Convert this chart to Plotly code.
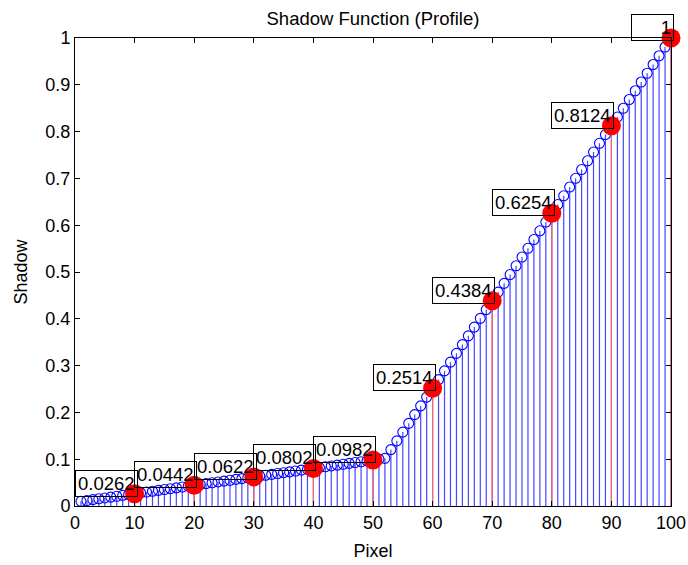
import plotly.graph_objects as go

# Pixel positions and shadow profile values
pixel = list(range(1, 101))
shadow = [
    0.0100, 0.0118, 0.0136, 0.0154, 0.0172, 0.0190, 0.0208, 0.0226, 0.0244, 0.0262,
    0.0280, 0.0298, 0.0316, 0.0334, 0.0352, 0.0370, 0.0388, 0.0406, 0.0424, 0.0442,
    0.0460, 0.0478, 0.0496, 0.0514, 0.0532, 0.0550, 0.0568, 0.0586, 0.0604, 0.0622,
    0.0640, 0.0658, 0.0676, 0.0694, 0.0712, 0.0730, 0.0748, 0.0766, 0.0784, 0.0802,
    0.0820, 0.0838, 0.0856, 0.0874, 0.0892, 0.0910, 0.0928, 0.0946, 0.0964, 0.0982,
    0.1000, 0.1018, 0.1205, 0.1392, 0.1579, 0.1766, 0.1953, 0.2140, 0.2327, 0.2514,
    0.2701, 0.2888, 0.3075, 0.3262, 0.3449, 0.3636, 0.3823, 0.4010, 0.4197, 0.4384,
    0.4571, 0.4758, 0.4945, 0.5132, 0.5319, 0.5506, 0.5693, 0.5880, 0.6067, 0.6254,
    0.6441, 0.6628, 0.6815, 0.7002, 0.7189, 0.7376, 0.7563, 0.7750, 0.7937, 0.8124,
    0.8311, 0.8498, 0.8685, 0.8872, 0.9059, 0.9246, 0.9433, 0.9620, 0.9807, 1.0000,
]

# Sampled pixels that get a marker and a value label
marked_pixel = [10, 20, 30, 40, 50, 60, 70, 80, 90, 100]
marked_shadow = [shadow[p - 1] for p in marked_pixel]

x_ticks = list(range(0, 101, 10))
y_ticks = [round(0.1 * i, 1) for i in range(11)]
y_ticklabels = ["0", "0.1", "0.2", "0.3", "0.4", "0.5", "0.6", "0.7", "0.8", "0.9", "1"]

FONT = "Liberation Sans, Arial, Helvetica, sans-serif"

fig = go.Figure()

# Blue stems with open circles
fig.add_trace(go.Scatter(
    x=pixel, y=shadow, mode="markers",
    marker=dict(symbol="circle-open", size=10, color="blue", line=dict(width=1.1, color="blue")),
    error_y=dict(type="data", symmetric=False, array=[0] * len(shadow),
                 arrayminus=shadow, width=0, thickness=1.2, color="rgb(70,70,255)"),
    cliponaxis=False, showlegend=False, hoverinfo="x+y",
))

# Red highlighted stems with filled markers
fig.add_trace(go.Scatter(
    x=marked_pixel, y=marked_shadow, mode="markers",
    marker=dict(symbol="circle", size=19, color="red"),
    error_y=dict(type="data", symmetric=False, array=[0] * len(marked_shadow),
                 arrayminus=marked_shadow, width=0, thickness=1.2, color="rgb(255,100,100)"),
    cliponaxis=False, showlegend=False, hoverinfo="x+y",
))

# Boxed value labels placed up-left of each highlighted point
for px, val in zip(marked_pixel, marked_shadow):
    txt = f"{val:g}"
    fig.add_annotation(
        x=px, y=val, xref="x", yref="y", text=txt, showarrow=False,
        xanchor="right", yanchor="bottom", xshift=3, yshift=-3,
        align="right", width=37 if len(txt) == 1 else None,
        font=dict(family=FONT, size=18.5, color="black"),
        bordercolor="black", borderwidth=1, borderpad=2,
        bgcolor="rgba(0,0,0,0)",
    )

axis_common = dict(
    showline=True, linecolor="black", linewidth=1, mirror="ticks",
    ticks="inside", ticklen=5, tickcolor="black", tickwidth=1,
    showgrid=False, zeroline=False,
    tickfont=dict(family=FONT, size=18, color="black"),
)

fig.update_xaxes(
    range=[0, 100], tickvals=x_ticks,
    title=dict(text="Pixel", font=dict(family=FONT, size=18, color="black"), standoff=12),
    **axis_common,
)
fig.update_yaxes(
    range=[0, 1], tickvals=y_ticks, ticktext=y_ticklabels,
    title=dict(text="Shadow", font=dict(family=FONT, size=18, color="black"), standoff=13),
    **axis_common,
)

fig.update_layout(
    width=688, height=565,
    margin=dict(l=75, r=17, t=38, b=59, autoexpand=False),
    paper_bgcolor="white", plot_bgcolor="white",
    title=dict(text="Shadow Function (Profile)", x=0.5421, xanchor="center",
               y=0.968, yanchor="middle",
               font=dict(family=FONT, size=18.5, color="black")),
    font=dict(family=FONT),
)

fig.write_html("out.html")
